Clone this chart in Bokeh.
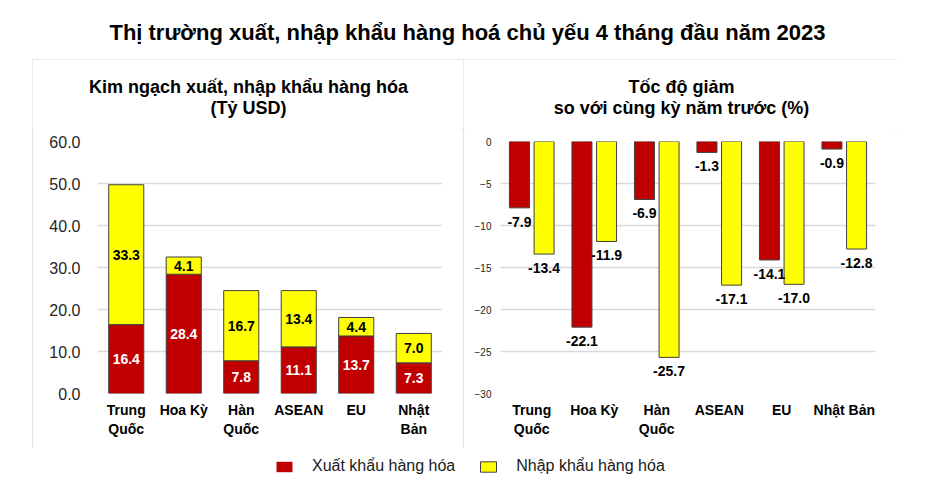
from bokeh.plotting import figure
from bokeh.models import (ColumnDataSource, Label, Legend, LegendItem, Spacer,
                          SingleIntervalTicker, NumeralTickFormatter, Range1d, FactorRange)
from bokeh.layouts import column, row
from bokeh.transform import dodge
from bokeh.core.properties import value
from bokeh.embed import file_html
from bokeh.resources import INLINE

# ---------------- data ----------------
title_text = "Thị trường xuất, nhập khẩu hàng hoá chủ yếu 4 tháng đầu năm 2023"
left_title = ["Kim ngạch xuất, nhập khẩu hàng hóa", "(Tỷ USD)"]
right_title = ["Tốc độ giảm", "so với cùng kỳ năm trước (%)"]
cats_left = ["Trung\nQuốc", "Hoa Kỳ", "Hàn\nQuốc", "ASEAN", "EU", "Nhật\nBản"]
cats_right = ["Trung\nQuốc", "Hoa Kỳ", "Hàn\nQuốc", "ASEAN", "EU", "Nhật Bản"]
export_value = [16.4, 28.4, 7.8, 11.1, 13.7, 7.3]
import_value = [33.3, 4.1, 16.7, 13.4, 4.4, 7.0]
export_change = [-7.9, -22.1, -6.9, -1.3, -14.1, -0.9]
import_change = [-13.4, -11.9, -25.7, -17.1, -17.0, -12.8]
series_names = ["Xuất khẩu hàng hóa", "Nhập khẩu hàng hóa"]

# ---------------- style ----------------
FONT = "Liberation Sans"
RED = "#C00000"
YEL = "#FFFF00"
EDGE = "#404040"
GRID = "#D9D9D9"
TXT = "#000000"
BOX = {"outline": "2px solid #D9D9D9", "outline-offset": "-2px"}


def bare(p):
    p.outline_line_color = None
    p.background_fill_color = "white"
    p.border_fill_color = "white"


def text_fig(w, h):
    f = figure(width=w, height=h, min_border=0, title=None, toolbar_location=None,
               output_backend="svg", x_range=Range1d(0, 1), y_range=Range1d(0, 1),
               frame_align=False)
    bare(f)
    f.axis.visible = False
    f.grid.visible = False
    return f


def style_axes(p, ylabel_size, ylabel_standoff):
    p.yaxis.major_label_text_font = FONT
    p.yaxis.major_label_text_font_size = ylabel_size
    p.yaxis.major_label_text_color = "#262626"
    p.yaxis.major_label_standoff = ylabel_standoff
    p.xaxis.major_label_text_font = FONT
    p.xaxis.major_label_text_font_size = "14px"
    p.xaxis.major_label_text_font_style = "bold"
    p.xaxis.major_label_text_color = TXT
    p.xaxis.major_label_standoff = 8
    for ax in (p.xaxis, p.yaxis):
        ax.axis_line_color = None
        ax.major_tick_line_color = None
        ax.minor_tick_line_color = None
        ax.major_tick_out = 0
        ax.major_tick_in = 0
    p.xgrid.grid_line_color = None
    p.ygrid.grid_line_color = GRID
    p.ygrid.grid_line_width = 1.5


# ---------------- title figure ----------------
tf = text_fig(934, 59)
tf.add_layout(Label(x=467, y=27, x_units="screen", y_units="screen", text=title_text,
                    text_align="center", text_baseline="middle", text_font=FONT,
                    text_font_size="22px", text_font_style="bold", text_color=TXT))

# ---------------- left panel ----------------
LW = 431
lsub = text_fig(LW, 70)
for txt, yy in zip(left_title, (43, 22)):
    lsub.add_layout(Label(x=216, y=yy, x_units="screen", y_units="screen", text=txt,
                          text_align="center", text_baseline="middle", text_font=FONT,
                          text_font_size="18px", text_font_style="bold", text_color=TXT))

src_l = ColumnDataSource(dict(
    cat=cats_left, exp=export_value, imp=import_value,
    exp_mid=[e / 2 for e in export_value],
    imp_mid=[e + i / 2 for e, i in zip(export_value, import_value)],
    exp_txt=[f"{v:.1f}" for v in export_value],
    imp_txt=[f"{v:.1f}" for v in import_value],
))

lf = figure(width=LW, height=318, title=None, toolbar_location=None, output_backend="svg",
            x_range=FactorRange(*cats_left), y_range=Range1d(0, 60), frame_align=False,
            min_border_left=65, min_border_right=21, min_border_top=12, min_border_bottom=54)
bare(lf)
lf.vbar_stack(["exp", "imp"], x="cat", width=0.61, color=[RED, YEL], line_color=EDGE,
              line_width=1, source=src_l)
lf.text(x="cat", y="exp_mid", text="exp_txt", source=src_l, text_align="center",
        text_baseline="middle", text_font=value(FONT), text_font_size="14px",
        text_font_style="bold", text_color="white")
lf.text(x="cat", y="imp_mid", text="imp_txt", source=src_l, text_align="center",
        text_baseline="middle", text_font=value(FONT), text_font_size="14px",
        text_font_style="bold", text_color="black")
lf.yaxis.ticker = SingleIntervalTicker(interval=10)
lf.yaxis.formatter = NumeralTickFormatter(format="0.0")
style_axes(lf, "16px", 13)

left_panel = column(lsub, lf, styles=BOX)

# ---------------- right panel ----------------
RW = 434
rsub = text_fig(RW, 70)
for txt, yy in zip(right_title, (43, 22)):
    rsub.add_layout(Label(x=218, y=yy, x_units="screen", y_units="screen", text=txt,
                          text_align="center", text_baseline="middle", text_font=FONT,
                          text_font_size="18px", text_font_style="bold", text_color=TXT))

src_r = ColumnDataSource(dict(
    cat=cats_right, exp=export_change, imp=import_change,
    exp_txt=[f"{v:.1f}" for v in export_change],
    imp_txt=[f"{v:.1f}" for v in import_change],
))

rf = figure(width=RW, height=318, title=None, toolbar_location=None, output_backend="svg",
            x_range=FactorRange(*cats_right), y_range=Range1d(-30, 0), frame_align=False,
            min_border_left=37, min_border_right=22, min_border_top=12, min_border_bottom=54)
bare(rf)
OFF = 0.197
BW = 0.32
rf.vbar(x=dodge("cat", -OFF, range=rf.x_range), bottom=0, top="exp", width=BW,
        fill_color=RED, line_color=EDGE, line_width=1, source=src_r)
rf.vbar(x=dodge("cat", OFF, range=rf.x_range), bottom=0, top="imp", width=BW,
        fill_color=YEL, line_color=EDGE, line_width=1, source=src_r)
rf.text(x=dodge("cat", -OFF, range=rf.x_range), y="exp", text="exp_txt", source=src_r,
        text_align="center", text_baseline="middle", y_offset=14, text_font=value(FONT),
        text_font_size="14px", text_font_style="bold", text_color=TXT)
rf.text(x=dodge("cat", OFF, range=rf.x_range), y="imp", text="imp_txt", source=src_r,
        text_align="center", text_baseline="middle", y_offset=14, text_font=value(FONT),
        text_font_size="14px", text_font_style="bold", text_color=TXT)
rf.yaxis.ticker = SingleIntervalTicker(interval=5)
style_axes(rf, "10px", 5)

right_panel = column(rsub, rf, styles=BOX)

# ---------------- legend figure ----------------
lg = figure(width=934, height=50, min_border=0, title=None, toolbar_location=None,
            output_backend="svg", x_range=FactorRange(*cats_left), y_range=Range1d(10, 11),
            frame_align=False)
bare(lg)
lg.axis.visible = False
lg.grid.visible = False
r1 = lg.vbar(x=cats_left[:1], top=[0], width=0.5, fill_color=RED, line_color=None)
r2 = lg.vbar(x=cats_left[:1], top=[0], width=0.5, fill_color=YEL, line_color=EDGE)
legend = Legend(items=[LegendItem(label=series_names[0], renderers=[r1]),
                       LegendItem(label=series_names[1], renderers=[r2])],
                orientation="horizontal", location=(274, 22), glyph_width=20, glyph_height=13,
                label_text_font=FONT, label_text_font_size="16px", label_standoff=18,
                spacing=23, padding=0, margin=0, border_line_color=None,
                background_fill_alpha=0, label_text_color="#1a1a1a")
lg.add_layout(legend, "center")

layout = column(tf,
                row(Spacer(width=32, height=388), left_panel, right_panel,
                    Spacer(width=37, height=388)),
                lg)
open("out.html", "w").write(file_html(layout, INLINE))
